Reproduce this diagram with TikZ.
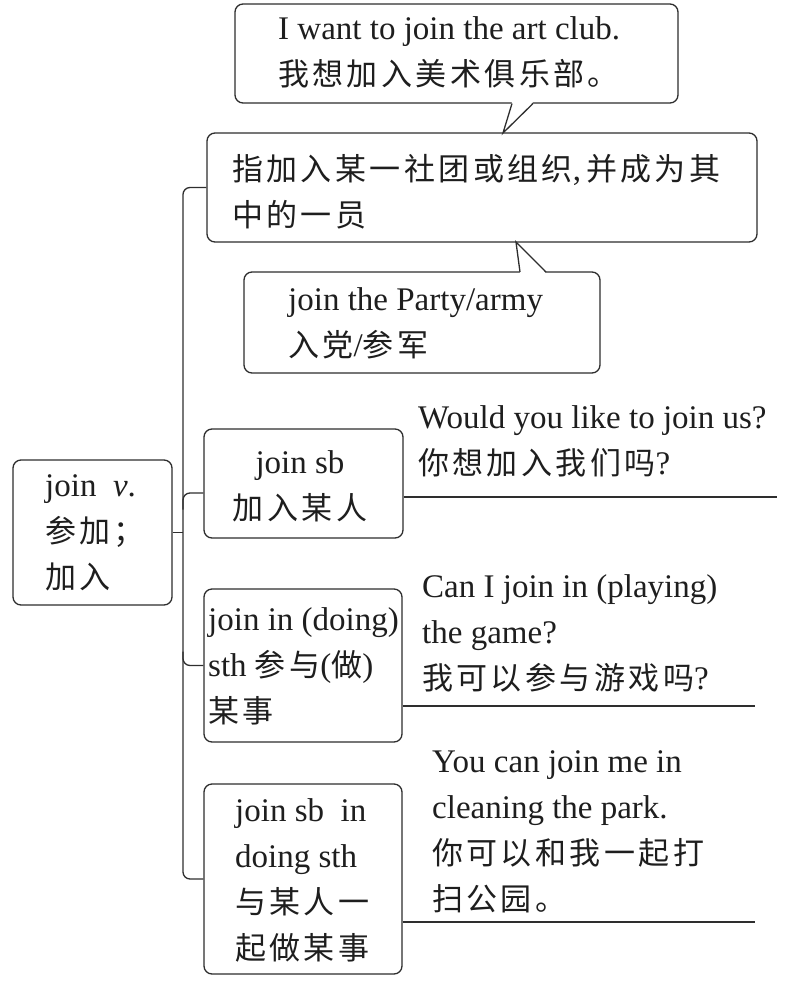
\documentclass[tikz,border=0pt]{standalone}
\usepackage{fontspec}
\setmainfont{Liberation Serif}
\newfontfamily\cjk[LetterSpace=11]{Noto Sans CJK SC}
\newcommand{\zh}[1]{{\cjk\fontsize{31}{46}\selectfont #1}}
\definecolor{inkline}{HTML}{2E2E2E}
\definecolor{inktext}{HTML}{1E1E1E}
\tikzset{
  wordbox/.style={draw=inkline, line width=1.3pt, rounded corners=8pt, fill=white},
  wordtext/.style={anchor=west, align=left},
  linkline/.style={draw=inkline, line width=1.3pt}
}

\begin{document}
\begin{tikzpicture}
            [every node/.style={inner sep=0pt, text=inktext, font=\fontsize{33}{46}\selectfont}]
                \useasboundingbox (0pt, 0pt) rectangle (785pt, -986pt);
                % boxes
                \node (art) [wordbox, minimum width=443pt, minimum height=99pt] at (456.5pt, -53.5pt) {};
                \node (def) [wordbox, minimum width=550pt, minimum height=109pt] at (482pt, -187.5pt) {};
                \node (party) [wordbox, minimum width=356pt, minimum height=101pt] at (422pt, -322.5pt) {};
                \node (main) [wordbox, minimum width=159pt, minimum height=145pt] at (92.5pt, -532.5pt) {};
                \node (jsb) [wordbox, minimum width=199pt, minimum height=109pt] at (303.5pt, -483.5pt) {};
                \node (inpart) [wordbox, minimum width=198pt, minimum height=153pt] at (303pt, -665.5pt) {};
                \node (withsb) [wordbox, minimum width=198pt, minimum height=190pt] at (303pt, -879pt) {};
                % callout tails
                \fill[white] (512pt, -102pt) -- (503pt, -133pt) -- (533pt, -102pt) -- cycle;
                \draw [linkline] (512pt, -103.5pt) -- (503pt, -133pt) -- (533pt, -103.5pt);
                \fill[white] (520pt, -273.5pt) -- (516pt, -242pt) -- (546pt, -273.5pt) -- cycle;
                \draw [linkline] (520pt, -272pt) -- (516pt, -242pt) -- (546pt, -272pt);
                % box texts
                \node (arttext) [wordtext] at (278pt, -52pt) {I want to join the art club.\\ \zh{我想加入美术俱乐部。}};
                \node (deftext) [wordtext] at (232pt, -192pt) {\zh{指加入某一社团或组织},\hspace{5pt}\zh{并成为其}\\ \zh{中的一员}};
                \node (partytext) [wordtext] at (288pt, -323pt) {join the Party/army\\ \zh{入党}/\zh{参军}};
                \node (maintext) [wordtext] at (45pt, -533pt) {join\ \ \textit{v}.\\ \zh{参加；}\\ \zh{加入}};
                \node (jsbtext) [align=center] at (300pt, -486pt) {join sb\\ \zh{加入某人}};
                \node (inparttext) [wordtext] at (208pt, -666pt) {join in (doing)\\ sth \zh{参与}(\zh{做})\\ \zh{某事}};
                \node (withtext) [wordtext] at (235pt, -880pt) {join sb\ \ in\\ doing sth\\ \zh{与某人一}\\ \zh{起做某事}};
                % examples
                \node (exjsb) [wordtext] at (418pt, -441pt) {Would you like to join us?\\ \zh{你想加入我们吗}?};
                \node (exin) [wordtext] at (422pt, -633pt) {Can I join in (playing)\\ the game?\\ \zh{我可以参与游戏吗}?};
                \node (exwith) [wordtext] at (432pt, -832pt) {You can join me in\\ cleaning the park.\\ \zh{你可以和我一起打}\\ \zh{扫公园。}};
                % bracket
                \coordinate (spine) at (183pt, -533pt);
                \draw [linkline, rounded corners=7pt] (def.west) -| (spine) |- (withsb.west);
                \draw [linkline] (main.east) -- (main.east -| spine);
                \draw [linkline, rounded corners=7pt] ([yshift=-9.5pt]jsb.west) -| ([yshift=-26pt]jsb.west -| spine);
                \draw [linkline, rounded corners=7pt] ([yshift=14pt]inpart.west -| spine) |- (inpart.west);
                % underlines
                \coordinate (endjsb) at (777pt, -497pt);
                \coordinate (endin) at (755pt, -706pt);
                \coordinate (endwith) at (755pt, -922pt);
                \draw [linkline] (jsb.east |- endjsb) -- (endjsb);
                \draw [linkline] (inpart.east |- endin) -- (endin);
                \draw [linkline] (withsb.east |- endwith) -- (endwith);
            \end{tikzpicture}
\end{document}
